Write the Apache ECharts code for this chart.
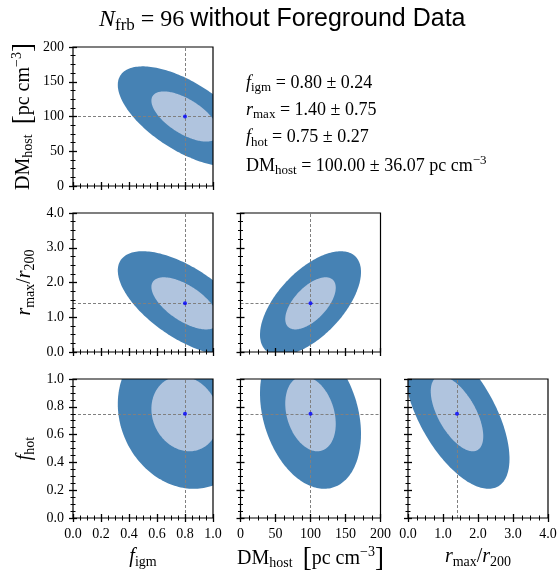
<!DOCTYPE html>
<html><head><meta charset="utf-8">
<script src="https://cdn.jsdelivr.net/npm/echarts@6/dist/echarts.min.js"></script>
<style>html,body{margin:0;padding:0;background:#fff}#chart{width:560px;height:574px}</style>
</head><body><div id="chart"></div>
<script>
// ---- Fisher forecast parameters ----
const paramKeys = ['figm', 'DMhost', 'rmax', 'fhot'];
const fiducial = [0.80, 100.00, 1.40, 0.75];
const sigma = [0.24, 36.07, 0.75, 0.27];
const axisMin = [0, 0, 0, 0];
const axisMax = [1.0, 200, 4.0, 1.0];
const axisStep = [0.2, 50, 1.0, 0.2];
const tickDecimals = [1, 0, 1, 1];

// ---- corner-plot panels: x parameter, y parameter, correlation read from ellipse tilt ----
const panelX = [0, 0, 1, 0, 1, 2];
const panelY = [1, 2, 2, 3, 3, 3];
const panelRow = [0, 1, 1, 2, 2, 2];
const panelCol = [0, 0, 1, 0, 1, 2];
const panelRho = [-0.63, -0.63, 0.60, -0.13, -0.27, -0.60];

const contourSigma = [2, 1];
const contourColor = ['#4682b4', '#b0c4de'];

const titleN = 96;

// ---- layout ----
const SERIF = "'Liberation Serif', 'DejaVu Serif', serif";
const SANS = "'Liberation Sans', 'DejaVu Sans', sans-serif";
const colLeft = [73, 240.5, 408];
const rowTop = [47, 213, 379];
const panelW = 140, panelH = 139;

function rich(base, sfSize) {
  const s = Math.round(base * 0.72);
  const common = { color: '#000', fontWeight: 'normal' };
  return {
    it: Object.assign({ fontFamily: SERIF, fontStyle: 'italic', fontSize: base }, common),
    rm: Object.assign({ fontFamily: SERIF, fontSize: base }, common),
    sub: Object.assign({ fontFamily: SERIF, fontSize: s, padding: [Math.round(base * 0.5), 0, 0, 0] }, common),
    sup: Object.assign({ fontFamily: SERIF, fontSize: s, padding: [0, 0, Math.round(base * 0.6), 0] }, common),
    br: Object.assign({ fontFamily: SERIF, fontSize: Math.round(base * 1.35) }, common),
    sf: Object.assign({ fontFamily: SANS, fontSize: sfSize || base }, common)
  };
}

const axisNames = [
  '{it|f}{sub|igm}',
  '{rm|DM}{sub|host}{rm|  }{br|[}{rm|pc cm}{sup|−3}{br|]}',
  '{it|r}{sub|max}{rm|/}{it|r}{sub|200}',
  '{it|f}{sub|hot}'
];
const symbolNames = ['{it|f}{sub|igm}', '{rm|DM}{sub|host}', '{it|r}{sub|max}', '{it|f}{sub|hot}'];
const hasUnit = [false, true, false, false];
const summaryOrder = [0, 2, 3, 1];

const grids = [], xAxes = [], yAxes = [], series = [];

function valueAxis(pi, gridIndex, inside, showLabels, name, isY) {
  const ax = {
    type: 'value', gridIndex: gridIndex, min: axisMin[pi], max: axisMax[pi], interval: axisStep[pi],
    z: 15,
    axisLine: { show: false, onZero: false },
    splitLine: { show: false },
    axisTick: { show: true, inside: inside, length: 4, lineStyle: { color: '#000', width: 1.3 } },
    minorTick: { show: true, splitNumber: 4, length: 2.5, lineStyle: { color: '#000', width: 1 } },
    axisLabel: {
      show: showLabels, margin: 9, fontFamily: SERIF, fontSize: 14, color: '#000',
      formatter: function (v) { return v.toFixed(tickDecimals[pi]); }
    },
    silent: true
  };
  if (name) {
    ax.name = name;
    ax.nameLocation = 'middle';
    ax.nameGap = isY ? 36 : 27;
    ax.nameMoveOverlap = false;
    if (isY) ax.nameRotate = 90;
    ax.nameTextStyle = { rich: rich(20) };
  }
  return ax;
}

for (let p = 0; p < panelX.length; p++) {
  const xi = panelX[p], yi = panelY[p];
  const r = panelRow[p], c = panelCol[p];
  const rect = { left: colLeft[c], top: rowTop[r], width: panelW, height: panelH, containLabel: false, outerBoundsMode: 'none' };
  grids.push(Object.assign({ show: true, borderColor: '#000', borderWidth: 1.2, backgroundColor: 'transparent', z: 20 }, rect));
  const gMain = grids.length - 1;
  grids.push(Object.assign({ show: false }, rect));
  const gIn = grids.length - 1;

  const bottomRow = r === 2, leftCol = c === 0;
  xAxes.push(valueAxis(xi, gMain, false, bottomRow, bottomRow ? axisNames[xi] : '', false));
  const xMain = xAxes.length - 1;
  xAxes.push(valueAxis(xi, gIn, true, false, '', false));
  yAxes.push(valueAxis(yi, gMain, false, leftCol, leftCol ? axisNames[yi] : '', true));
  const yMain = yAxes.length - 1;
  yAxes.push(valueAxis(yi, gIn, true, false, '', true));

  const sx = sigma[xi], sy = sigma[yi], rho = panelRho[p];
  for (let lvl = 0; lvl < contourSigma.length; lvl++) {
    const k = contourSigma[lvl];
    series.push({
      type: 'custom', xAxisIndex: xMain, yAxisIndex: yMain, clip: true, silent: true, z: 2 + lvl,
      data: [[fiducial[xi], fiducial[yi]]],
      renderItem: function (params, api) {
        const cx = api.value(0), cy = api.value(1);
        const pts = [];
        const n = 200, q = Math.sqrt(1 - rho * rho);
        for (let t = 0; t < n; t++) {
          const th = 2 * Math.PI * t / n;
          const ct = Math.cos(th), st = Math.sin(th);
          pts.push(api.coord([cx + k * sx * ct, cy + k * sy * (rho * ct + q * st)]));
        }
        return { type: 'polygon', shape: { points: pts }, style: { fill: contourColor[lvl] } };
      }
    });
  }
  series.push({
    type: 'scatter', xAxisIndex: xMain, yAxisIndex: yMain, z: 10, silent: true,
    symbolSize: 4, itemStyle: { color: '#0000ff' },
    data: [[fiducial[xi], fiducial[yi]]],
    markLine: {
      silent: true, z: 5, symbol: ['none', 'none'], label: { show: false },
      lineStyle: { color: '#808080', width: 1, type: [3, 2] },
      data: [{ xAxis: fiducial[xi] }, { yAxis: fiducial[yi] }]
    }
  });
}

const titles = [{
  text: '{it|N}{sub|frb}{rm| = ' + titleN + ' }{sf|without Foreground Data}',
  left: 99, top: 5, padding: 0,
  textStyle: { rich: rich(24, 25) }
}];
summaryOrder.forEach(function (pi, i) {
  titles.push({
    text: symbolNames[pi] + '{rm| = ' + fiducial[pi].toFixed(2) + ' ± ' + sigma[pi].toFixed(2) + (hasUnit[pi] ? ' pc cm}{sup|−3}' : '}'),
    left: 246, top: 72 + i * 27.3, padding: 0,
    textStyle: { rich: rich(18) }
  });
});

const chart = echarts.init(document.getElementById('chart'), null, { renderer: 'canvas' });
chart.setOption({
  animation: false,
  backgroundColor: '#fff',
  title: titles,
  grid: grids,
  xAxis: xAxes,
  yAxis: yAxes,
  series: series
});
</script></body></html>
